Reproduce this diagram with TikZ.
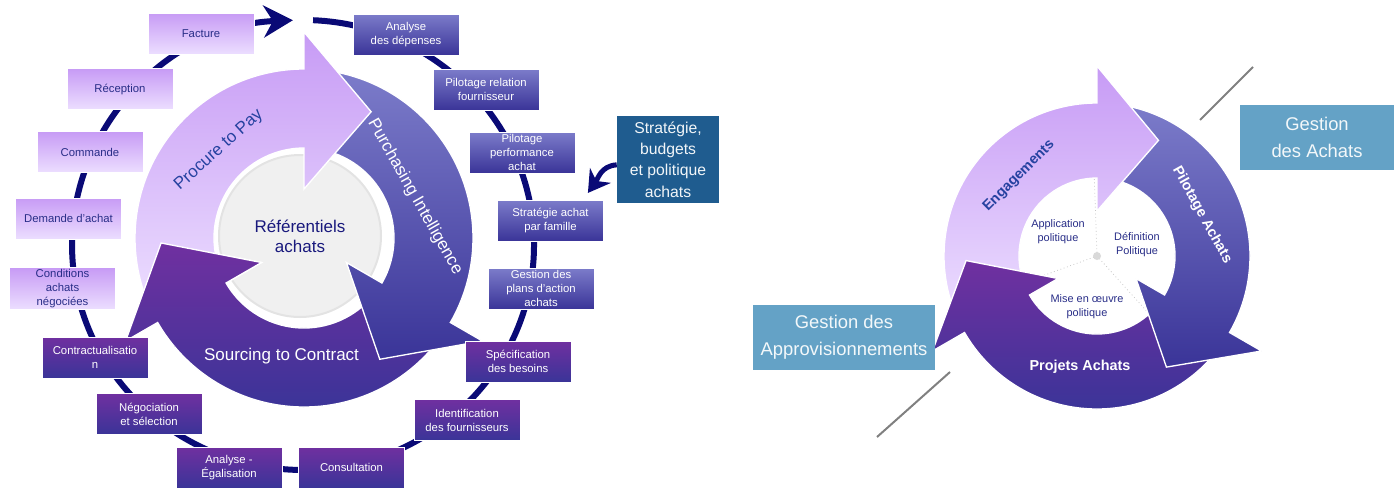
\documentclass[tikz,border=0pt]{standalone}
\usepackage{fontspec}
\setmainfont{Liberation Sans}
\usetikzlibrary{arrows.meta}
\definecolor{lilactop}{RGB}{199,155,245}
\definecolor{lilacbot}{RGB}{236,222,255}
\definecolor{slatetop}{RGB}{124,124,202}
\definecolor{slatebot}{RGB}{58,52,152}
\definecolor{plumtop}{RGB}{112,48,160}
\definecolor{plumbot}{RGB}{58,52,152}
\definecolor{ringnavy}{RGB}{10,10,118}
\definecolor{boxnavy}{RGB}{40,45,135}
\definecolor{refnavy}{RGB}{25,25,125}
\definecolor{labelblue}{RGB}{38,66,160}
\definecolor{stratblue}{RGB}{31,92,143}
\definecolor{gestblue}{RGB}{100,162,198}
\definecolor{discgray}{RGB}{240,240,240}

\newcommand{\cyclearrow}[3]{%
  \path[#3] (#1:\rout) arc[start angle=#1, end angle=#2, radius=\rout]
    -- (#2:\rbout) -- (#2+28:\rtip) -- (#2:\rbin) -- (#2:\rin)
    arc[start angle=#2, end angle=#1, radius=\rin] -- cycle;}

\tikzset{
  stagebox/.style={rectangle, minimum width=79.5pt, minimum height=30.75pt,
    inner sep=1pt, align=center, draw=white, line width=0.6pt,
    font=\fontsize{8.5}{10.5}\selectfont},
  lilacbox/.style={stagebox, top color=lilactop, bottom color=lilacbot, text=boxnavy},
  slatebox/.style={stagebox, top color=slatetop, bottom color=slatebot, text=white},
  plumbox/.style={stagebox, top color=plumtop, bottom color=plumbot, text=white},
  lilacarrow/.style={top color=lilactop, bottom color=lilacbot, draw=white, line width=1pt},
  slatearrow/.style={top color=slatetop, bottom color=slatebot, draw=white, line width=1pt},
  plumarrow/.style={top color=plumtop, bottom color=plumbot, draw=white, line width=1pt},
  biglabel/.style={font=\fontsize{12.75}{15}\selectfont},
  cyclelabel/.style={font=\bfseries\fontsize{10.8}{13}\selectfont},
  innerlabel/.style={font=\fontsize{8.2}{10.5}\selectfont, text=boxnavy, align=center},
  gestbox/.style={rectangle, fill=gestblue, text=white!92!gestblue, align=center,
    inner sep=2pt, minimum height=48.75pt, font=\fontsize{13.8}{20}\selectfont}
}

\begin{document}
\begin{tikzpicture}[x=0.75pt, y=-0.75pt]
  \useasboundingbox (0,0) rectangle (1394,487);

  % process ring
  \draw[ringnavy, line width=4.5pt, -{Stealth[length=22pt, width=24pt, inset=7pt]}]
    (313.1,20.2) arc[start angle=-87.5, end angle=267.5, x radius=231, y radius=225];

  \node[circle, minimum size=121.5pt, fill=discgray, draw=gray!22, line width=1.5pt]
    (refdisc) at (300,236) {};

  \begin{scope}[shift={(304,238)}]
    \def\rin{90}\def\rout{169}\def\rbin{49}\def\rbout{206}\def\rtip{143}
    \cyclearrow{396}{510}{plumarrow}
    \cyclearrow{276}{390}{slatearrow}
    \cyclearrow{156}{270}{lilacarrow}
    \begin{scope}
      \clip (0,0) -- (140:230) arc[start angle=140, end angle=190, radius=230] -- cycle;
      \cyclearrow{396}{510}{plumarrow}
    \end{scope}
  \end{scope}

  \node[biglabel, text=labelblue, rotate=42] (ptp) at (219,150) {Procure to Pay};
  \node[biglabel, text=white, rotate=-60.5] (pint) at (415,197) {Purchasing Intelligence};
  \node[biglabel, text=white] (stc) at (281.5,356) {Sourcing to Contract};
  \node[biglabel, text=refnavy, align=center] (reflbl) at (refdisc) {Référentiels\\achats};

  \foreach \px/\py/\nm/\txt in {
      406/34.5/spend/Analyse\\des dépenses,
      486/89.5/suprel/Pilotage relation\\fournisseur,
      522/152.5/perf/Pilotage\\performance\\achat,
      550.5/220.5/sfam/Stratégie achat\\par famille,
      541/288.5/plans/Gestion des\\plans d’action\\achats}
    \node[slatebox] (\nm) at (\px,\py) {\txt};
  \foreach \px/\py/\nm/\txt in {
      518/361.5/spec/Spécification\\des besoins,
      467/420/ident/Identification\\des fournisseurs,
      351.5/467.5/consult/Consultation,
      229/467.5/egal/Analyse -\\Égalisation,
      149/414/nego/Négociation\\et sélection,
      95/357.5/contract/Contractualisatio\\n}
    \node[plumbox] (\nm) at (\px,\py) {\txt};
  \foreach \px/\py/\nm/\txt in {
      62.5/288.5/cond/Conditions\\achats\\négociées,
      68.5/218.5/dem/Demande d’achat,
      90/152/cmd/Commande,
      120/89/recep/Réception,
      201/33.5/fact/Facture}
    \node[lilacbox] (\nm) at (\px,\py) {\txt};

  \node[rectangle, fill=stratblue, text=white!94!stratblue, align=center,
    minimum width=76.5pt, minimum height=65.25pt, inner sep=1pt,
    font=\fontsize{11.8}{16}\selectfont] (strat) at (668,159.5)
    {Stratégie,\\budgets\\et politique\\achats};
  \coordinate (stratend) at ([xshift=-12pt, yshift=5pt]sfam.north east);
  \draw[ringnavy, line width=3.75pt, -{Stealth[length=16pt, width=19pt, inset=5pt]}]
    ([yshift=-4pt]strat.west) .. controls +(-16,1) and +(10,-14) .. (stratend);

  % right cycle
  \begin{scope}[shift={(1097,256)}]
    \draw[gray!45, dotted, line width=0.6pt] (0,0) -- (268:90) (0,0) -- (160:80) (0,0) -- (48:90);
    \def\rin{78}\def\rout{153}\def\rbin{45}\def\rbout{190}\def\rtip{131}
    \cyclearrow{396}{510}{plumarrow}
    \cyclearrow{276}{390}{slatearrow}
    \cyclearrow{156}{270}{lilacarrow}
    \begin{scope}
      \clip (0,0) -- (140:215) arc[start angle=140, end angle=190, radius=215] -- cycle;
      \cyclearrow{396}{510}{plumarrow}
    \end{scope}
    \fill[gray!30] (0,0) circle[radius=4];
  \end{scope}

  \node[cyclelabel, text=labelblue, rotate=45] (eng) at (1019,176) {Engagements};
  \node[cyclelabel, text=white, rotate=-61] (pil) at (1202,215) {Pilotage Achats};
  \node[cyclelabel, text=white] (proj) at (1080,367) {Projets Achats};
  \node[innerlabel] (appl) at (1058,232) {Application\\politique};
  \node[innerlabel] (defi) at (1137,245) {Définition\\Politique};
  \node[innerlabel] (mise) at (1087,307) {Mise en œuvre\\politique};

  \node[gestbox, minimum width=136.5pt] (appro) at (844,337.5) {Gestion des\\Approvisionnements};
  \node[gestbox, minimum width=115.5pt] (achats) at (1317,137.5) {Gestion\\des Achats};
  \coordinate (ga1) at (1200,120);
  \coordinate (ga2) at (1253,67);
  \coordinate (gb1) at (950,372);
  \coordinate (gb2) at (877,437);
  \draw[gray, line width=1.5pt] (ga1) -- (ga2);
  \draw[gray, line width=1.5pt] (gb1) -- (gb2);
\end{tikzpicture}
\end{document}
